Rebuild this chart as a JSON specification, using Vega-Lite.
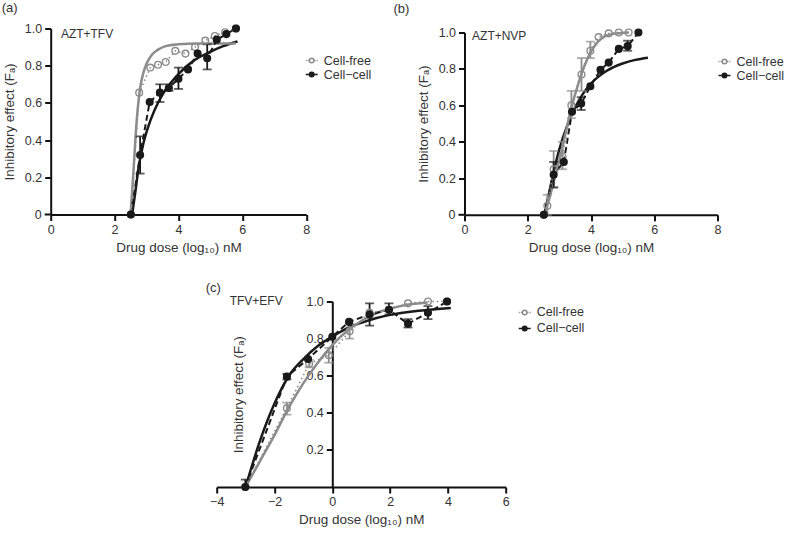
{
"$schema": "https://vega.github.io/schema/vega-lite/v6.json",
"padding": {"left": 1.7, "top": 1.5, "right": 2, "bottom": 2},
"background": "white",
"datasets": {
"pts": [
{"panel":"a","series":"Cell-free","x":2.51,"y":0},
{"panel":"a","series":"Cell-free","x":2.77,"y":0.655},
{"panel":"a","series":"Cell-free","x":3.12,"y":0.79},
{"panel":"a","series":"Cell-free","x":3.36,"y":0.805},
{"panel":"a","series":"Cell-free","x":3.6,"y":0.82},
{"panel":"a","series":"Cell-free","x":3.9,"y":0.88},
{"panel":"a","series":"Cell-free","x":4.22,"y":0.865},
{"panel":"a","series":"Cell-free","x":4.52,"y":0.9},
{"panel":"a","series":"Cell-free","x":4.84,"y":0.935},
{"panel":"a","series":"Cell-free","x":5.14,"y":0.96},
{"panel":"a","series":"Cell-free","x":5.46,"y":0.98},
{"panel":"a","series":"Cell-free","x":5.8,"y":1.0},
{"panel":"a","series":"Cell−cell","x":2.51,"y":0},
{"panel":"a","series":"Cell−cell","x":2.8,"y":0.32,"lo":0.22,"hi":0.42},
{"panel":"a","series":"Cell−cell","x":3.1,"y":0.605},
{"panel":"a","series":"Cell−cell","x":3.42,"y":0.655,"lo":0.605,"hi":0.7},
{"panel":"a","series":"Cell−cell","x":3.7,"y":0.68,"lo":0.665,"hi":0.7},
{"panel":"a","series":"Cell−cell","x":4.0,"y":0.73,"lo":0.675,"hi":0.79},
{"panel":"a","series":"Cell−cell","x":4.3,"y":0.78},
{"panel":"a","series":"Cell−cell","x":4.6,"y":0.865},
{"panel":"a","series":"Cell−cell","x":4.9,"y":0.84,"lo":0.78,"hi":0.915},
{"panel":"a","series":"Cell−cell","x":5.2,"y":0.94},
{"panel":"a","series":"Cell−cell","x":5.5,"y":0.97},
{"panel":"a","series":"Cell−cell","x":5.8,"y":1.0},
{"panel":"b","series":"Cell-free","x":2.51,"y":0},
{"panel":"b","series":"Cell-free","x":2.62,"y":0.05,"lo":0.0,"hi":0.11},
{"panel":"b","series":"Cell-free","x":2.82,"y":0.25,"lo":0.15,"hi":0.35},
{"panel":"b","series":"Cell-free","x":3.1,"y":0.32,"lo":0.25,"hi":0.4},
{"panel":"b","series":"Cell-free","x":3.38,"y":0.6,"lo":0.53,"hi":0.68},
{"panel":"b","series":"Cell-free","x":3.7,"y":0.77,"lo":0.68,"hi":0.86},
{"panel":"b","series":"Cell-free","x":3.98,"y":0.9,"lo":0.86,"hi":0.95},
{"panel":"b","series":"Cell-free","x":4.24,"y":0.975},
{"panel":"b","series":"Cell-free","x":4.56,"y":0.995},
{"panel":"b","series":"Cell-free","x":4.88,"y":1.0},
{"panel":"b","series":"Cell-free","x":5.19,"y":1.0},
{"panel":"b","series":"Cell−cell","x":2.51,"y":0},
{"panel":"b","series":"Cell−cell","x":2.82,"y":0.22,"lo":0.15,"hi":0.29},
{"panel":"b","series":"Cell−cell","x":3.14,"y":0.29},
{"panel":"b","series":"Cell−cell","x":3.4,"y":0.565},
{"panel":"b","series":"Cell−cell","x":3.69,"y":0.61,"lo":0.575,"hi":0.645},
{"panel":"b","series":"Cell−cell","x":3.98,"y":0.705},
{"panel":"b","series":"Cell−cell","x":4.3,"y":0.795},
{"panel":"b","series":"Cell−cell","x":4.56,"y":0.835},
{"panel":"b","series":"Cell−cell","x":4.88,"y":0.91},
{"panel":"b","series":"Cell−cell","x":5.16,"y":0.925,"lo":0.9,"hi":0.955},
{"panel":"b","series":"Cell−cell","x":5.5,"y":1.0},
{"panel":"c","series":"Cell-free","x":-3.01,"y":0},
{"panel":"c","series":"Cell-free","x":-1.57,"y":0.425,"lo":0.39,"hi":0.455},
{"panel":"c","series":"Cell-free","x":-0.8,"y":0.665,"lo":0.645,"hi":0.685},
{"panel":"c","series":"Cell-free","x":-0.12,"y":0.71,"lo":0.67,"hi":0.75},
{"panel":"c","series":"Cell-free","x":0.6,"y":0.84,"lo":0.8,"hi":0.88},
{"panel":"c","series":"Cell-free","x":1.29,"y":0.94},
{"panel":"c","series":"Cell-free","x":1.96,"y":0.955},
{"panel":"c","series":"Cell-free","x":2.62,"y":0.99},
{"panel":"c","series":"Cell-free","x":3.31,"y":1.0},
{"panel":"c","series":"Cell-free","x":3.97,"y":1.0},
{"panel":"c","series":"Cell−cell","x":-3.01,"y":0,"lo":0,"hi":0.04},
{"panel":"c","series":"Cell−cell","x":-1.57,"y":0.595,"lo":0.58,"hi":0.61},
{"panel":"c","series":"Cell−cell","x":-0.84,"y":0.69},
{"panel":"c","series":"Cell−cell","x":0.0,"y":0.81},
{"panel":"c","series":"Cell−cell","x":0.58,"y":0.89},
{"panel":"c","series":"Cell−cell","x":1.29,"y":0.93,"lo":0.87,"hi":0.99},
{"panel":"c","series":"Cell−cell","x":1.96,"y":0.955,"lo":0.93,"hi":0.99},
{"panel":"c","series":"Cell−cell","x":2.62,"y":0.88,"lo":0.86,"hi":0.905},
{"panel":"c","series":"Cell−cell","x":3.31,"y":0.94,"lo":0.905,"hi":0.975},
{"panel":"c","series":"Cell−cell","x":3.97,"y":1.0}
],
"fit": [
{"panel":"a","series":"Cell-free","x":2.5,"y":0},
{"panel":"a","series":"Cell-free","x":2.58,"y":0.2},
{"panel":"a","series":"Cell-free","x":2.65,"y":0.4},
{"panel":"a","series":"Cell-free","x":2.72,"y":0.56},
{"panel":"a","series":"Cell-free","x":2.8,"y":0.68},
{"panel":"a","series":"Cell-free","x":2.9,"y":0.76},
{"panel":"a","series":"Cell-free","x":3.0,"y":0.81},
{"panel":"a","series":"Cell-free","x":3.15,"y":0.855},
{"panel":"a","series":"Cell-free","x":3.35,"y":0.885},
{"panel":"a","series":"Cell-free","x":3.6,"y":0.905},
{"panel":"a","series":"Cell-free","x":4.0,"y":0.915},
{"panel":"a","series":"Cell-free","x":4.6,"y":0.92},
{"panel":"a","series":"Cell-free","x":5.8,"y":0.92},
{"panel":"a","series":"Cell−cell","x":2.55,"y":0},
{"panel":"a","series":"Cell−cell","x":2.65,"y":0.12},
{"panel":"a","series":"Cell−cell","x":2.75,"y":0.25},
{"panel":"a","series":"Cell−cell","x":2.9,"y":0.38},
{"panel":"a","series":"Cell−cell","x":3.05,"y":0.47},
{"panel":"a","series":"Cell−cell","x":3.25,"y":0.56},
{"panel":"a","series":"Cell−cell","x":3.5,"y":0.645},
{"panel":"a","series":"Cell−cell","x":3.75,"y":0.705},
{"panel":"a","series":"Cell−cell","x":4.0,"y":0.755},
{"panel":"a","series":"Cell−cell","x":4.5,"y":0.83},
{"panel":"a","series":"Cell−cell","x":5.0,"y":0.875},
{"panel":"a","series":"Cell−cell","x":5.4,"y":0.905},
{"panel":"a","series":"Cell−cell","x":5.85,"y":0.93},
{"panel":"b","series":"Cell-free","x":2.52,"y":0},
{"panel":"b","series":"Cell-free","x":2.7,"y":0.1},
{"panel":"b","series":"Cell-free","x":2.85,"y":0.2},
{"panel":"b","series":"Cell-free","x":3.0,"y":0.3},
{"panel":"b","series":"Cell-free","x":3.2,"y":0.45},
{"panel":"b","series":"Cell-free","x":3.4,"y":0.6},
{"panel":"b","series":"Cell-free","x":3.6,"y":0.72},
{"panel":"b","series":"Cell-free","x":3.8,"y":0.82},
{"panel":"b","series":"Cell-free","x":4.0,"y":0.895},
{"panel":"b","series":"Cell-free","x":4.2,"y":0.945},
{"panel":"b","series":"Cell-free","x":4.45,"y":0.98},
{"panel":"b","series":"Cell-free","x":4.8,"y":0.995},
{"panel":"b","series":"Cell-free","x":5.2,"y":1.0},
{"panel":"b","series":"Cell−cell","x":2.52,"y":0},
{"panel":"b","series":"Cell−cell","x":2.65,"y":0.1},
{"panel":"b","series":"Cell−cell","x":2.8,"y":0.22},
{"panel":"b","series":"Cell−cell","x":3.0,"y":0.36},
{"panel":"b","series":"Cell−cell","x":3.25,"y":0.49},
{"panel":"b","series":"Cell−cell","x":3.5,"y":0.59},
{"panel":"b","series":"Cell−cell","x":3.75,"y":0.665},
{"panel":"b","series":"Cell−cell","x":4.0,"y":0.72},
{"panel":"b","series":"Cell−cell","x":4.5,"y":0.79},
{"panel":"b","series":"Cell−cell","x":5.0,"y":0.83},
{"panel":"b","series":"Cell−cell","x":5.4,"y":0.85},
{"panel":"b","series":"Cell−cell","x":5.8,"y":0.862},
{"panel":"c","series":"Cell-free","x":-3,"y":0},
{"panel":"c","series":"Cell-free","x":-2.5,"y":0.14},
{"panel":"c","series":"Cell-free","x":-2,"y":0.28},
{"panel":"c","series":"Cell-free","x":-1.5,"y":0.43},
{"panel":"c","series":"Cell-free","x":-1,"y":0.56},
{"panel":"c","series":"Cell-free","x":-0.5,"y":0.67},
{"panel":"c","series":"Cell-free","x":0,"y":0.765},
{"panel":"c","series":"Cell-free","x":0.5,"y":0.84},
{"panel":"c","series":"Cell-free","x":1,"y":0.895},
{"panel":"c","series":"Cell-free","x":1.5,"y":0.935},
{"panel":"c","series":"Cell-free","x":2,"y":0.962},
{"panel":"c","series":"Cell-free","x":2.5,"y":0.98},
{"panel":"c","series":"Cell-free","x":3.3,"y":0.995},
{"panel":"c","series":"Cell−cell","x":-3,"y":0},
{"panel":"c","series":"Cell−cell","x":-2.5,"y":0.25},
{"panel":"c","series":"Cell−cell","x":-2,"y":0.45},
{"panel":"c","series":"Cell−cell","x":-1.5,"y":0.6},
{"panel":"c","series":"Cell−cell","x":-1,"y":0.69},
{"panel":"c","series":"Cell−cell","x":-0.5,"y":0.76},
{"panel":"c","series":"Cell−cell","x":0,"y":0.81},
{"panel":"c","series":"Cell−cell","x":0.5,"y":0.855},
{"panel":"c","series":"Cell−cell","x":1,"y":0.885},
{"panel":"c","series":"Cell−cell","x":1.5,"y":0.91},
{"panel":"c","series":"Cell−cell","x":2,"y":0.928},
{"panel":"c","series":"Cell−cell","x":3,"y":0.95},
{"panel":"c","series":"Cell−cell","x":4.1,"y":0.965}
]
},
"vconcat": [
{
"hconcat": [
{
"width": 255.5, "height": 186,
"title": {"text": "(a)", "anchor": "start", "frame": "group", "dx": -49, "offset": 7},
"layer": [
{"data": {"name": "fit"}, "transform": [{"filter": "datum.panel === 'a' && datum.series !== 'Cell-free'"}],
 "mark": {"type": "line", "color": "#1a1a1a", "strokeWidth": 2.5, "interpolate": "monotone"},
 "encoding": {"x": {"field": "x", "type": "quantitative", "title": "Drug dose (log₁₀) nM", "scale": {"domain": [0, 8]}, "axis": {"values": [0, 2, 4, 6, 8], "labelOverlap": false}},
  "y": {"field": "y", "type": "quantitative", "title": "Inhibitory effect (Fₐ)", "scale": {"domain": [0, 1]}, "axis": {"values": [0.2, 0.4, 0.6, 0.8, 1], "labelOverlap": false, "labelExpr": "format(datum.value, '.1f')"}}}},
{"data": {"name": "fit"}, "transform": [{"filter": "datum.panel === 'a' && datum.series === 'Cell-free'"}],
 "mark": {"type": "line", "color": "#8c8c8c", "strokeWidth": 2.5, "interpolate": "monotone"},
 "encoding": {"x": {"field": "x", "type": "quantitative", "title": "Drug dose (log₁₀) nM", "scale": {"domain": [0, 8]}},
  "y": {"field": "y", "type": "quantitative", "title": "Inhibitory effect (Fₐ)", "scale": {"domain": [0, 1]}}}},
{"data": {"name": "pts"}, "transform": [{"filter": "datum.panel === 'a' && datum.series !== 'Cell-free'"}],
 "mark": {"type": "line", "color": "#1a1a1a", "strokeWidth": 2, "strokeDash": [6, 3.5]},
 "encoding": {"x": {"field": "x", "type": "quantitative", "title": "Drug dose (log₁₀) nM", "scale": {"domain": [0, 8]}},
  "y": {"field": "y", "type": "quantitative", "title": "Inhibitory effect (Fₐ)", "scale": {"domain": [0, 1]}}}},
{"data": {"name": "pts"}, "transform": [{"filter": "datum.panel === 'a' && datum.series === 'Cell-free'"}],
 "mark": {"type": "line", "color": "#8c8c8c", "strokeWidth": 1.6, "strokeDash": [1.5, 3]},
 "encoding": {"x": {"field": "x", "type": "quantitative", "title": "Drug dose (log₁₀) nM", "scale": {"domain": [0, 8]}},
  "y": {"field": "y", "type": "quantitative", "title": "Inhibitory effect (Fₐ)", "scale": {"domain": [0, 1]}}}},
{"data": {"name": "pts"}, "transform": [{"filter": "datum.panel === 'a' && isValid(datum.lo)"}],
 "mark": {"type": "rule", "strokeWidth": 1.8},
 "encoding": {"x": {"field": "x", "type": "quantitative", "title": "Drug dose (log₁₀) nM", "scale": {"domain": [0, 8]}},
  "y": {"field": "lo", "type": "quantitative", "title": "Inhibitory effect (Fₐ)", "scale": {"domain": [0, 1]}}, "y2": {"field": "hi"},
  "color": {"condition": {"test": "datum.series === 'Cell-free'", "value": "#8c8c8c"}, "value": "#1a1a1a"}}},
{"data": {"name": "pts"}, "transform": [{"filter": "datum.panel === 'a' && isValid(datum.lo)"}, {"fold": ["lo", "hi"], "as": ["end", "yv"]}],
 "mark": {"type": "tick", "orient": "horizontal", "size": 9, "thickness": 1.8},
 "encoding": {"x": {"field": "x", "type": "quantitative", "title": "Drug dose (log₁₀) nM", "scale": {"domain": [0, 8]}},
  "y": {"field": "yv", "type": "quantitative", "title": "Inhibitory effect (Fₐ)", "scale": {"domain": [0, 1]}},
  "color": {"condition": {"test": "datum.series === 'Cell-free'", "value": "#8c8c8c"}, "value": "#1a1a1a"}}},
{"data": {"name": "pts"}, "transform": [{"filter": "datum.panel === 'a'"}],
 "mark": {"type": "point", "size": 45, "strokeWidth": 1.4, "opacity": 1},
 "encoding": {"x": {"field": "x", "type": "quantitative", "title": "Drug dose (log₁₀) nM", "scale": {"domain": [0, 8]}},
  "y": {"field": "y", "type": "quantitative", "title": "Inhibitory effect (Fₐ)", "scale": {"domain": [0, 1]}},
  "fill": {"condition": {"test": "datum.series === 'Cell-free'", "value": "transparent"}, "value": "#1a1a1a"},
  "color": {"condition": {"test": "datum.series === 'Cell-free'", "value": "#8c8c8c"}, "value": "#1a1a1a"}}},
{"data": {"name": "pts"}, "transform": [{"filter": "false"}],
 "mark": {"type": "point", "filled": false, "strokeWidth": 1.5, "opacity": 1},
 "encoding": {"x": {"field": "x", "type": "quantitative", "title": "Drug dose (log₁₀) nM", "scale": {"domain": [0, 8]}},
  "y": {"field": "y", "type": "quantitative", "title": "Inhibitory effect (Fₐ)", "scale": {"domain": [0, 1]}},
  "color": {"field": "series", "type": "nominal", "title": null, "scale": {"domain": ["Cell-free", "Cell−cell"], "range": ["#8c8c8c", "#1a1a1a"]},
   "legend": {"title": null, "orient": "none", "legendX": 254, "legendY": 25, "rowPadding": 0, "symbolSize": 144, "labelFontSize": 12.5, "labelOffset": 5}},
  "shape": {"field": "series", "type": "nominal", "title": null, "scale": {"domain": ["Cell-free", "Cell−cell"], "range": ["M-1,0L-0.82,0M-0.64,0L-0.46,0M0.46,0L0.64,0M0.82,0L1,0M-0.38,0A0.38,0.38 0 1,1 0.38,0A0.38,0.38 0 1,1 -0.38,0Z", "M-1,0L1,0M-0.38,0A0.38,0.38 0 1,1 0.38,0A0.38,0.38 0 1,1 -0.38,0ZM-0.22,0A0.22,0.22 0 1,1 0.22,0A0.22,0.22 0 1,1 -0.22,0ZM-0.08,0A0.08,0.08 0 1,1 0.08,0A0.08,0.08 0 1,1 -0.08,0Z"]},
   "legend": {"title": null, "orient": "none", "legendX": 254, "legendY": 25, "rowPadding": 0, "symbolSize": 144, "labelFontSize": 12.5, "labelOffset": 5}}}},
{"data": {"values": [{"label": "AZT+TFV"}]},
 "mark": {"type": "text", "align": "left", "baseline": "middle", "fontSize": 12, "color": "#333"},
 "encoding": {"x": {"datum": 0.32, "type": "quantitative", "scale": {"domain": [0, 8]}}, "y": {"datum": 0.973, "type": "quantitative", "scale": {"domain": [0, 1]}}, "text": {"field": "label"}}},
{"data": {"values": [{"label": "0"}]},
 "mark": {"type": "text", "align": "right", "baseline": "middle", "fontSize": 12.5, "color": "#333"},
 "encoding": {"x": {"datum": -0.282, "type": "quantitative", "scale": {"domain": [0, 8]}}, "y": {"datum": 0, "type": "quantitative", "scale": {"domain": [0, 1]}}, "text": {"field": "label"}}},
{"data": {"values": [{"label": "0"}]},
 "mark": {"type": "rule", "color": "#111", "strokeWidth": 2},
 "encoding": {"x": {"datum": -0.19, "type": "quantitative", "scale": {"domain": [0, 8]}}, "x2": {"datum": 0}, "y": {"datum": 0, "type": "quantitative", "scale": {"domain": [0, 1]}}}}
]
},
{
"vconcat": [
{"width": 1, "height": 3.4, "data": {"values": []}, "mark": "point"},
{
"width": 253, "height": 182.3,
"title": {"text": "(b)", "anchor": "start", "frame": "group", "dx": -71, "offset": 10.4},
"layer": [
{"data": {"name": "fit"}, "transform": [{"filter": "datum.panel === 'b' && datum.series !== 'Cell-free'"}],
 "mark": {"type": "line", "color": "#1a1a1a", "strokeWidth": 2.5, "interpolate": "monotone"},
 "encoding": {"x": {"field": "x", "type": "quantitative", "title": "Drug dose (log₁₀) nM", "scale": {"domain": [0, 8]}, "axis": {"values": [0, 2, 4, 6, 8], "labelOverlap": false}},
  "y": {"field": "y", "type": "quantitative", "title": "Inhibitory effect (Fₐ)", "scale": {"domain": [0, 1]}, "axis": {"values": [0.2, 0.4, 0.6, 0.8, 1], "labelOverlap": false, "labelExpr": "format(datum.value, '.1f')"}}}},
{"data": {"name": "fit"}, "transform": [{"filter": "datum.panel === 'b' && datum.series === 'Cell-free'"}],
 "mark": {"type": "line", "color": "#8c8c8c", "strokeWidth": 2.5, "interpolate": "monotone"},
 "encoding": {"x": {"field": "x", "type": "quantitative", "title": "Drug dose (log₁₀) nM", "scale": {"domain": [0, 8]}},
  "y": {"field": "y", "type": "quantitative", "title": "Inhibitory effect (Fₐ)", "scale": {"domain": [0, 1]}}}},
{"data": {"name": "pts"}, "transform": [{"filter": "datum.panel === 'b' && datum.series !== 'Cell-free'"}],
 "mark": {"type": "line", "color": "#1a1a1a", "strokeWidth": 2, "strokeDash": [6, 3.5]},
 "encoding": {"x": {"field": "x", "type": "quantitative", "title": "Drug dose (log₁₀) nM", "scale": {"domain": [0, 8]}},
  "y": {"field": "y", "type": "quantitative", "title": "Inhibitory effect (Fₐ)", "scale": {"domain": [0, 1]}}}},
{"data": {"name": "pts"}, "transform": [{"filter": "datum.panel === 'b' && datum.series === 'Cell-free'"}],
 "mark": {"type": "line", "color": "#8c8c8c", "strokeWidth": 1.6, "strokeDash": [1.5, 3]},
 "encoding": {"x": {"field": "x", "type": "quantitative", "title": "Drug dose (log₁₀) nM", "scale": {"domain": [0, 8]}},
  "y": {"field": "y", "type": "quantitative", "title": "Inhibitory effect (Fₐ)", "scale": {"domain": [0, 1]}}}},
{"data": {"name": "pts"}, "transform": [{"filter": "datum.panel === 'b' && isValid(datum.lo)"}],
 "mark": {"type": "rule", "strokeWidth": 1.8},
 "encoding": {"x": {"field": "x", "type": "quantitative", "title": "Drug dose (log₁₀) nM", "scale": {"domain": [0, 8]}},
  "y": {"field": "lo", "type": "quantitative", "title": "Inhibitory effect (Fₐ)", "scale": {"domain": [0, 1]}}, "y2": {"field": "hi"},
  "color": {"condition": {"test": "datum.series === 'Cell-free'", "value": "#8c8c8c"}, "value": "#1a1a1a"}}},
{"data": {"name": "pts"}, "transform": [{"filter": "datum.panel === 'b' && isValid(datum.lo)"}, {"fold": ["lo", "hi"], "as": ["end", "yv"]}],
 "mark": {"type": "tick", "orient": "horizontal", "size": 9, "thickness": 1.8},
 "encoding": {"x": {"field": "x", "type": "quantitative", "title": "Drug dose (log₁₀) nM", "scale": {"domain": [0, 8]}},
  "y": {"field": "yv", "type": "quantitative", "title": "Inhibitory effect (Fₐ)", "scale": {"domain": [0, 1]}},
  "color": {"condition": {"test": "datum.series === 'Cell-free'", "value": "#8c8c8c"}, "value": "#1a1a1a"}}},
{"data": {"name": "pts"}, "transform": [{"filter": "datum.panel === 'b'"}],
 "mark": {"type": "point", "size": 45, "strokeWidth": 1.4, "opacity": 1},
 "encoding": {"x": {"field": "x", "type": "quantitative", "title": "Drug dose (log₁₀) nM", "scale": {"domain": [0, 8]}},
  "y": {"field": "y", "type": "quantitative", "title": "Inhibitory effect (Fₐ)", "scale": {"domain": [0, 1]}},
  "fill": {"condition": {"test": "datum.series === 'Cell-free'", "value": "transparent"}, "value": "#1a1a1a"},
  "color": {"condition": {"test": "datum.series === 'Cell-free'", "value": "#8c8c8c"}, "value": "#1a1a1a"}}},
{"data": {"name": "pts"}, "transform": [{"filter": "false"}],
 "mark": {"type": "point", "filled": false, "strokeWidth": 1.5, "opacity": 1},
 "encoding": {"x": {"field": "x", "type": "quantitative", "title": "Drug dose (log₁₀) nM", "scale": {"domain": [0, 8]}},
  "y": {"field": "y", "type": "quantitative", "title": "Inhibitory effect (Fₐ)", "scale": {"domain": [0, 1]}},
  "color": {"field": "series", "type": "nominal", "title": null, "scale": {"domain": ["Cell-free", "Cell−cell"], "range": ["#8c8c8c", "#1a1a1a"]},
   "legend": {"title": null, "orient": "none", "legendX": 253, "legendY": 22, "rowPadding": 0, "symbolSize": 144, "labelFontSize": 12.5, "labelOffset": 5}},
  "shape": {"field": "series", "type": "nominal", "title": null, "scale": {"domain": ["Cell-free", "Cell−cell"], "range": ["M-1,0L-0.82,0M-0.64,0L-0.46,0M0.46,0L0.64,0M0.82,0L1,0M-0.38,0A0.38,0.38 0 1,1 0.38,0A0.38,0.38 0 1,1 -0.38,0Z", "M-1,0L1,0M-0.38,0A0.38,0.38 0 1,1 0.38,0A0.38,0.38 0 1,1 -0.38,0ZM-0.22,0A0.22,0.22 0 1,1 0.22,0A0.22,0.22 0 1,1 -0.22,0ZM-0.08,0A0.08,0.08 0 1,1 0.08,0A0.08,0.08 0 1,1 -0.08,0Z"]},
   "legend": {"title": null, "orient": "none", "legendX": 253, "legendY": 22, "rowPadding": 0, "symbolSize": 144, "labelFontSize": 12.5, "labelOffset": 5}}}},
{"data": {"values": [{"label": "AZT+NVP"}]},
 "mark": {"type": "text", "align": "left", "baseline": "middle", "fontSize": 12, "color": "#333"},
 "encoding": {"x": {"datum": 0.24, "type": "quantitative", "scale": {"domain": [0, 8]}}, "y": {"datum": 0.98, "type": "quantitative", "scale": {"domain": [0, 1]}}, "text": {"field": "label"}}},
{"data": {"values": [{"label": "0"}]},
 "mark": {"type": "text", "align": "right", "baseline": "middle", "fontSize": 12.5, "color": "#333"},
 "encoding": {"x": {"datum": -0.285, "type": "quantitative", "scale": {"domain": [0, 8]}}, "y": {"datum": 0, "type": "quantitative", "scale": {"domain": [0, 1]}}, "text": {"field": "label"}}},
{"data": {"values": [{"label": "0"}]},
 "mark": {"type": "rule", "color": "#111", "strokeWidth": 2},
 "encoding": {"x": {"datum": -0.19, "type": "quantitative", "scale": {"domain": [0, 8]}}, "x2": {"datum": 0}, "y": {"datum": 0, "type": "quantitative", "scale": {"domain": [0, 1]}}}}
]
}
],
"spacing": 0, "bounds": "flush",
"resolve": {"scale": {"x": "independent", "y": "independent", "color": "independent", "shape": "independent"}, "legend": {"color": "independent", "shape": "independent"}}
}
],
"spacing": 157.8, "bounds": "flush",
"resolve": {"scale": {"x": "independent", "y": "independent", "color": "independent", "shape": "independent"}, "legend": {"color": "independent", "shape": "independent"}}
},
{
"hconcat": [
{"width": 165.3, "height": 10, "data": {"values": []}, "mark": "point"},
{
"width": 289, "height": 185.5,
"title": {"text": "(c)", "anchor": "start", "frame": "group", "dx": -11, "offset": 0},
"layer": [
{"data": {"name": "fit"}, "transform": [{"filter": "datum.panel === 'c' && datum.series !== 'Cell-free'"}],
 "mark": {"type": "line", "color": "#1a1a1a", "strokeWidth": 2.5, "interpolate": "monotone"},
 "encoding": {"x": {"field": "x", "type": "quantitative", "title": "Drug dose (log₁₀) nM", "scale": {"domain": [-4, 6]}, "axis": {"values": [-4, -2, 0, 2, 4, 6], "labelOverlap": false}},
  "y": {"field": "y", "type": "quantitative", "title": "Inhibitory effect (Fₐ)", "scale": {"domain": [0, 1]}, "axis": {"values": [0.2, 0.4, 0.6, 0.8, 1], "labelOverlap": false, "labelExpr": "format(datum.value, '.1f')", "offset": -115.6, "titlePadding": 60}}}},
{"data": {"name": "fit"}, "transform": [{"filter": "datum.panel === 'c' && datum.series === 'Cell-free'"}],
 "mark": {"type": "line", "color": "#8c8c8c", "strokeWidth": 2.5, "interpolate": "monotone"},
 "encoding": {"x": {"field": "x", "type": "quantitative", "title": "Drug dose (log₁₀) nM", "scale": {"domain": [-4, 6]}},
  "y": {"field": "y", "type": "quantitative", "title": "Inhibitory effect (Fₐ)", "scale": {"domain": [0, 1]}}}},
{"data": {"name": "pts"}, "transform": [{"filter": "datum.panel === 'c' && datum.series !== 'Cell-free'"}],
 "mark": {"type": "line", "color": "#1a1a1a", "strokeWidth": 2, "strokeDash": [6, 3.5]},
 "encoding": {"x": {"field": "x", "type": "quantitative", "title": "Drug dose (log₁₀) nM", "scale": {"domain": [-4, 6]}},
  "y": {"field": "y", "type": "quantitative", "title": "Inhibitory effect (Fₐ)", "scale": {"domain": [0, 1]}}}},
{"data": {"name": "pts"}, "transform": [{"filter": "datum.panel === 'c' && datum.series === 'Cell-free'"}],
 "mark": {"type": "line", "color": "#8c8c8c", "strokeWidth": 1.6, "strokeDash": [1.5, 3]},
 "encoding": {"x": {"field": "x", "type": "quantitative", "title": "Drug dose (log₁₀) nM", "scale": {"domain": [-4, 6]}},
  "y": {"field": "y", "type": "quantitative", "title": "Inhibitory effect (Fₐ)", "scale": {"domain": [0, 1]}}}},
{"data": {"name": "pts"}, "transform": [{"filter": "datum.panel === 'c' && isValid(datum.lo)"}],
 "mark": {"type": "rule", "strokeWidth": 1.8},
 "encoding": {"x": {"field": "x", "type": "quantitative", "title": "Drug dose (log₁₀) nM", "scale": {"domain": [-4, 6]}},
  "y": {"field": "lo", "type": "quantitative", "title": "Inhibitory effect (Fₐ)", "scale": {"domain": [0, 1]}}, "y2": {"field": "hi"},
  "color": {"condition": {"test": "datum.series === 'Cell-free'", "value": "#8c8c8c"}, "value": "#1a1a1a"}}},
{"data": {"name": "pts"}, "transform": [{"filter": "datum.panel === 'c' && isValid(datum.lo)"}, {"fold": ["lo", "hi"], "as": ["end", "yv"]}],
 "mark": {"type": "tick", "orient": "horizontal", "size": 9, "thickness": 1.8},
 "encoding": {"x": {"field": "x", "type": "quantitative", "title": "Drug dose (log₁₀) nM", "scale": {"domain": [-4, 6]}},
  "y": {"field": "yv", "type": "quantitative", "title": "Inhibitory effect (Fₐ)", "scale": {"domain": [0, 1]}},
  "color": {"condition": {"test": "datum.series === 'Cell-free'", "value": "#8c8c8c"}, "value": "#1a1a1a"}}},
{"data": {"name": "pts"}, "transform": [{"filter": "datum.panel === 'c'"}],
 "mark": {"type": "point", "size": 45, "strokeWidth": 1.4, "opacity": 1},
 "encoding": {"x": {"field": "x", "type": "quantitative", "title": "Drug dose (log₁₀) nM", "scale": {"domain": [-4, 6]}},
  "y": {"field": "y", "type": "quantitative", "title": "Inhibitory effect (Fₐ)", "scale": {"domain": [0, 1]}},
  "fill": {"condition": {"test": "datum.series === 'Cell-free'", "value": "transparent"}, "value": "#1a1a1a"},
  "color": {"condition": {"test": "datum.series === 'Cell-free'", "value": "#8c8c8c"}, "value": "#1a1a1a"}}},
{"data": {"name": "pts"}, "transform": [{"filter": "false"}],
 "mark": {"type": "point", "filled": false, "strokeWidth": 1.5, "opacity": 1},
 "encoding": {"x": {"field": "x", "type": "quantitative", "title": "Drug dose (log₁₀) nM", "scale": {"domain": [-4, 6]}},
  "y": {"field": "y", "type": "quantitative", "title": "Inhibitory effect (Fₐ)", "scale": {"domain": [0, 1]}},
  "color": {"field": "series", "type": "nominal", "title": null, "scale": {"domain": ["Cell-free", "Cell−cell"], "range": ["#8c8c8c", "#1a1a1a"]},
   "legend": {"title": null, "orient": "none", "legendX": 301, "legendY": 4, "rowPadding": 2, "symbolSize": 144, "labelFontSize": 12.5, "labelOffset": 5}},
  "shape": {"field": "series", "type": "nominal", "title": null, "scale": {"domain": ["Cell-free", "Cell−cell"], "range": ["M-1,0L-0.82,0M-0.64,0L-0.46,0M0.46,0L0.64,0M0.82,0L1,0M-0.38,0A0.38,0.38 0 1,1 0.38,0A0.38,0.38 0 1,1 -0.38,0Z", "M-1,0L1,0M-0.38,0A0.38,0.38 0 1,1 0.38,0A0.38,0.38 0 1,1 -0.38,0ZM-0.22,0A0.22,0.22 0 1,1 0.22,0A0.22,0.22 0 1,1 -0.22,0ZM-0.08,0A0.08,0.08 0 1,1 0.08,0A0.08,0.08 0 1,1 -0.08,0Z"]},
   "legend": {"title": null, "orient": "none", "legendX": 301, "legendY": 4, "rowPadding": 2, "symbolSize": 144, "labelFontSize": 12.5, "labelOffset": 5}}}},
{"data": {"values": [{"label": "TFV+EFV"}]},
 "mark": {"type": "text", "align": "left", "baseline": "middle", "fontSize": 12, "color": "#333"},
 "encoding": {"x": {"datum": -3.55, "type": "quantitative", "scale": {"domain": [-4, 6]}}, "y": {"datum": 1.0, "type": "quantitative", "scale": {"domain": [0, 1]}}, "text": {"field": "label"}}}
]
}
],
"spacing": 0, "bounds": "flush",
"resolve": {"scale": {"x": "independent", "y": "independent", "color": "independent", "shape": "independent"}, "legend": {"color": "independent", "shape": "independent"}}
}
],
"spacing": 27,
"resolve": {"scale": {"x": "independent", "y": "independent", "color": "independent", "shape": "independent"}, "legend": {"color": "independent", "shape": "independent"}},
"config": {
"font": "Liberation Sans",
"view": {"stroke": null},
"axis": {"grid": false, "domainColor": "#111", "domainWidth": 2, "tickColor": "#111", "tickWidth": 2, "tickSize": 6, "labelFontSize": 12.5, "labelColor": "#333", "labelPadding": 3, "labelFlush": false, "labelOverlap": false, "titleFontSize": 13.5, "titleFontWeight": "normal", "titleColor": "#333"},
"axisX": {"titlePadding": 4},
"axisY": {"titlePadding": 8},
"title": {"fontSize": 13, "fontWeight": "normal", "color": "#333"},
"legend": {"labelFontSize": 12.5, "labelColor": "#333", "symbolSize": 144, "rowPadding": 0, "labelOffset": 5, "symbolStrokeWidth": 1.5}
}
}
